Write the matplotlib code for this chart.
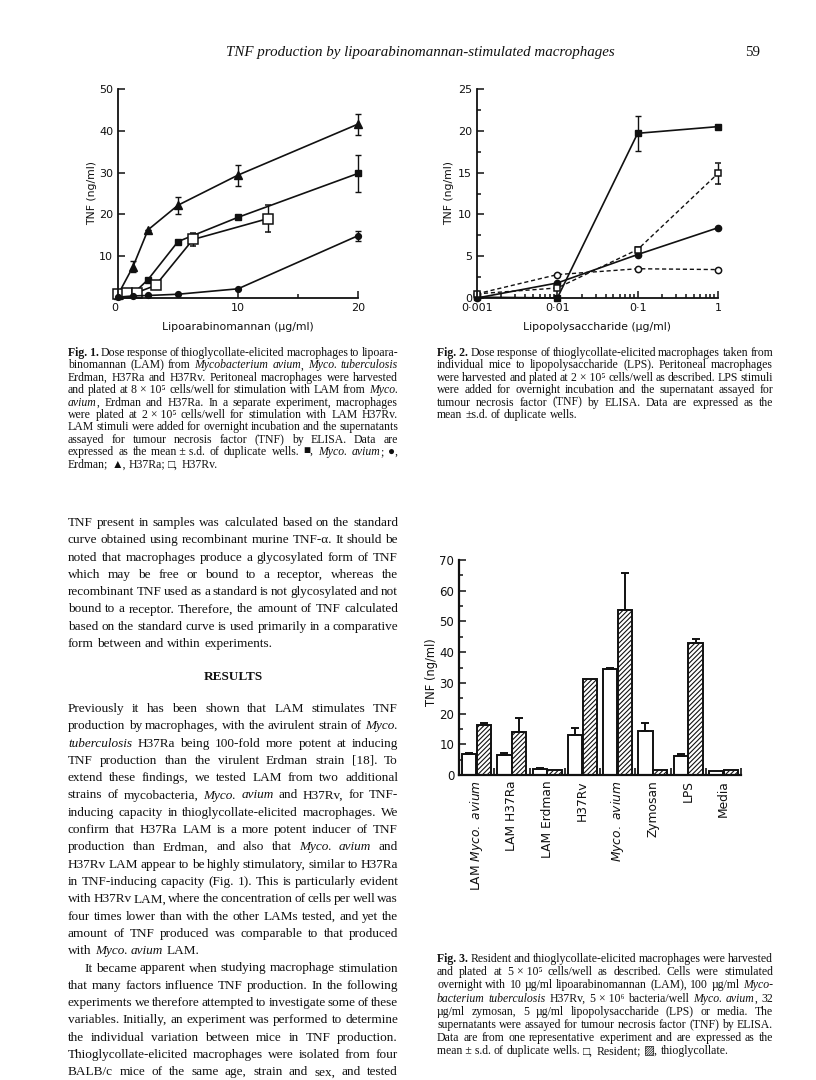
import numpy as np
import matplotlib
matplotlib.use('Agg')
import matplotlib.pyplot as plt
from matplotlib.font_manager import FontProperties
from matplotlib import transforms

W, H = 816, 1080
INK = '#111111'
SERIF = ['Liberation Serif', 'DejaVu Serif', 'DejaVu Sans']
plt.rcParams['font.family'] = ['DejaVu Sans']
plt.rcParams['hatch.linewidth'] = 0.8
plt.rcParams['mathtext.fontset'] = 'dejavusans'

# ---- Fig. 1 data: LAM dose response (ug/ml -> TNF ng/ml)
lam_dose = [0, 1.25, 2.5, 5, 10, 20]
avium = [0.6, 1.0, 4.4, 13.5, 19.3, 29.8]
avium_err = [0, 0, 0, 0, 0, 4.5]
erdman = [0.2, 0.5, 0.6, 0.9, 2.2, 14.9]
erdman_err = [0, 0, 0, 0, 0, 1.2]
h37ra = [0.8, 7.5, 16.3, 22.2, 29.4, 41.6]
h37ra_err = [0, 1.3, 0, 2.0, 2.5, 2.5]
rv_dose = [0, 0.78, 1.56, 3.125, 6.25, 12.5]
h37rv = [0.9, 1.3, 1.3, 3.0, 14.0, 19.0]
h37rv_err = [0, 0, 0, 0, 1.5, 3.3]

# ---- Fig. 2 data: LPS dose response
lps_dose = [0.001, 0.01, 0.1, 1]
mouse_a = [0.1, 0.0, 19.7, 20.5]
mouse_a_err = [0, 0, 2.1, 0]
mouse_b = [0.5, 1.2, 5.8, 14.9]
mouse_b_err = [0, 0, 0.3, 1.3]
mouse_c = [0.0, 1.8, 5.2, 8.4]
mouse_d = [0.5, 2.8, 3.5, 3.4]

# ---- Fig. 3 data: resident vs thioglycollate
stimuli = ['LAM $\\it{Myco.\\ avium}$', 'LAM H37Ra', 'LAM Erdman', 'H37Rv',
           '$\\it{Myco.\\ avium}$', 'Zymosan', 'LPS', 'Media']
resident = [6.8, 6.6, 2.1, 12.9, 34.6, 14.2, 6.3, 1.2]
resident_err = [0.4, 0.6, 0.3, 2.5, 0.3, 2.8, 0.5, 0]
thio = [16.3, 14.0, 1.5, 31.1, 53.6, 1.5, 43.1, 1.5]
thio_err = [0.5, 4.4, 0, 0, 12.3, 0, 1.1, 0]

fig = plt.figure(figsize=(W / 100, H / 100), dpi=100)
renderer = fig.canvas.get_renderer()


def box(x0, y0, x1, y1):
    return [x0 / W, 1 - y1 / H, (x1 - x0) / W, (y1 - y0) / H]


def ftext(x, y, s, **kw):
    return fig.text(x / W, 1 - y / H, s, color=INK, **kw)


def style_axes(ax):
    for s in ['top', 'right']:
        ax.spines[s].set_visible(False)
    for s in ['left', 'bottom']:
        ax.spines[s].set_linewidth(1.3)
        ax.spines[s].set_color(INK)
    ax.tick_params(which='both', direction='in', width=1.1, colors=INK, labelsize=8)
    ax.tick_params(which='major', length=5)
    ax.tick_params(which='minor', length=3)
    ax.patch.set_alpha(0)


lkw = dict(color=INK, lw=1.2, clip_on=False)

# ---------------- Fig. 1
ax1 = fig.add_axes(box(118, 89, 358, 298))
ax1.errorbar(lam_dose, h37ra, yerr=h37ra_err, marker='^', ms=5.5, mfc=INK, mec=INK,
             capsize=2.5, elinewidth=1, **lkw)
ax1.errorbar(lam_dose, avium, yerr=avium_err, marker='s', ms=4.5, mfc=INK, mec=INK,
             capsize=2.5, elinewidth=1, **lkw)
ax1.errorbar(rv_dose, h37rv, yerr=h37rv_err, marker='s', ms=6.5, mfc='white', mec=INK,
             mew=1.1, capsize=2.5, elinewidth=1, **lkw)
ax1.errorbar(lam_dose, erdman, yerr=erdman_err, marker='o', ms=4.2, mfc=INK, mec=INK,
             capsize=2.5, elinewidth=1, **lkw)
ax1.set_xlim(0, 20)
ax1.set_ylim(0, 50)
ax1.set_xticks([0, 10, 20])
ax1.set_xticks([5, 15], minor=True)
ax1.set_yticks([10, 20, 30, 40, 50])
style_axes(ax1)
ax1.get_xticklabels()[0].set_horizontalalignment('right')
ftext(92, 193, 'TNF (ng/ml)', rotation=90, ha='center', va='center', fontsize=7.8)
ftext(238, 327, 'Lipoarabinomannan (µg/ml)', ha='center', va='center', fontsize=7.8)

# ---------------- Fig. 2
ax2 = fig.add_axes(box(477, 89, 718, 298))
dkw = dict(color=INK, lw=1.0, ls=(0, (3, 2)), clip_on=False)
ax2.errorbar(lps_dose, mouse_a, yerr=mouse_a_err, marker='s', ms=5, mfc=INK, mec=INK,
             capsize=2.5, elinewidth=1, **lkw)
ax2.errorbar(lps_dose, mouse_b, yerr=mouse_b_err, marker='s', ms=5, mfc='white', mec=INK,
             mew=1.1, capsize=2.5, elinewidth=1, **dkw)
ax2.plot(lps_dose, mouse_c, marker='o', ms=4.5, mfc=INK, mec=INK, **lkw)
ax2.plot(lps_dose, mouse_d, marker='o', ms=4.5, mfc='white', mec=INK, mew=1.1, **dkw)
ax2.set_xscale('log')
ax2.set_xlim(0.001, 1)
ax2.set_ylim(0, 25)
ax2.set_xticks(lps_dose)
ax2.set_xticklabels(['0·001', '0·01', '0·1', '1'])
ax2.set_yticks([0, 5, 10, 15, 20, 25])
ax2.set_yticks(np.arange(2.5, 25, 5), minor=True)
style_axes(ax2)
ftext(449, 193, 'TNF (ng/ml)', rotation=90, ha='center', va='center', fontsize=7.8)
ftext(597, 327, 'Lipopolysaccharide (µg/ml)', ha='center', va='center', fontsize=7.8)

# ---------------- Fig. 3
ax3 = fig.add_axes(box(459, 560, 741, 775))
pos = np.arange(len(stimuli))
bw = 0.4
ax3.bar(pos - 0.21, resident, bw, color='white', edgecolor=INK, lw=1.4)
ax3.bar(pos + 0.21, thio, bw, color='white', edgecolor=INK, lw=1.4, hatch='///////')
r_err = np.array(resident_err)
t_err = np.array(thio_err)
m = r_err > 0
ax3.errorbar(pos[m] - 0.21, np.array(resident)[m], yerr=[np.zeros(m.sum()), r_err[m]],
             fmt='none', ecolor=INK, elinewidth=1.4, capsize=3, capthick=1.4)
m = t_err > 0
ax3.errorbar(pos[m] + 0.21, np.array(thio)[m], yerr=[np.zeros(m.sum()), t_err[m]],
             fmt='none', ecolor=INK, elinewidth=1.4, capsize=3, capthick=1.4)
ax3.set_xlim(-0.5, 7.5)
ax3.set_ylim(0, 70)
ax3.set_yticks(np.arange(0, 71, 10))
ax3.set_yticks(np.arange(5, 70, 10), minor=True)
ax3.set_xticks([])
ax3.set_xticks(pos + 0.5, minor=True)
style_axes(ax3)
ax3.spines['left'].set_linewidth(1.6)
ax3.spines['bottom'].set_linewidth(1.6)
ax3.tick_params(axis='y', labelsize=8.5)
ax3.tick_params(axis='x', which='minor', length=5, width=1.2)
btr = transforms.blended_transform_factory(ax3.transData, ax3.transAxes)
for p, lab in zip(pos, stimuli):
    ax3.text(p, -0.025, lab, rotation=90, ha='center', va='top', transform=btr,
             fontsize=8.8, color=INK)
ftext(431, 672, 'TNF (ng/ml)', rotation=90, ha='center', va='center', fontsize=8.3)


# ---------------- running text (justified, word by word)
def fp(size, it=False, bd=False):
    return FontProperties(family=SERIF, style='italic' if it else 'normal',
                          weight='bold' if bd else 'normal', size=size)


def tw(s, prop):
    return renderer.get_text_width_height_descent(s, prop, ismath=False)[0]


def parse(line, st):
    words = []
    for tok in line.split(' '):
        chunks, buf = [], ''
        for ch in tok:
            if ch in '_*':
                if buf:
                    chunks.append((buf, st['i'], st['b']))
                    buf = ''
                if ch == '_':
                    st['i'] = not st['i']
                else:
                    st['b'] = not st['b']
            else:
                buf += ' ' if ch == '~' else ch
        if buf:
            chunks.append((buf, st['i'], st['b']))
        words.append(chunks)
    return words


def word_w(w, size):
    return sum(tw(t, fp(size, i, b)) for t, i, b in w)


SPACE = 0.25  # em


def ratios(lines, x0, x1, last_just=False, indent=0):
    st = {'i': False, 'b': False}
    out = []
    for k, line in enumerate(lines):
        words = parse(line, st)
        if k == len(lines) - 1 and not last_just:
            continue
        avail = x1 - x0 - (indent if k == 0 else 0)
        nat = sum(word_w(w, 10) for w in words) + SPACE * 10 * 100 / 72 * (len(words) - 1)
        out.append(nat / avail)
    return out


def draw_par(lines, x0, x1, y0, lead, size, last_just=False, indent=0):
    st = {'i': False, 'b': False}
    for k, line in enumerate(lines):
        words = parse(line, st)
        xs = x0 + (indent if k == 0 else 0)
        s = size
        ws = [word_w(w, s) for w in words]
        mingap = 0.6 * SPACE * s * 100 / 72
        if sum(ws) + mingap * (len(words) - 1) > x1 - xs:
            s = size * (x1 - xs) / (sum(ws) + mingap * (len(words) - 1))
            ws = [word_w(w, s) for w in words]
        just = (k < len(lines) - 1 or last_just) and len(words) > 1
        gap = (x1 - xs - sum(ws)) / (len(words) - 1) if just else SPACE * s * 100 / 72
        x, y = xs, y0 + k * lead
        for w, wd in zip(words, ws):
            cx = x
            for t, i, b in w:
                pr = fp(s, i, b)
                ftext(cx, y, t, fontproperties=pr, ha='left', va='baseline')
                cx += tw(t, pr)
            x += wd + gap


cap1 = [
    '*Fig.~1.* Dose response of thioglycollate-elicited macrophages to lipoara-',
    'binomannan (LAM) from _Mycobacterium avium_, _Myco. tuberculosis_',
    'Erdman, H37Ra and H37Rv. Peritoneal macrophages were harvested',
    'and plated at 8~×~10⁵ cells/well for stimulation with LAM from _Myco._',
    '_avium_, Erdman and H37Ra. In a separate experiment, macrophages',
    'were plated at 2~×~10⁵ cells/well for stimulation with LAM H37Rv.',
    'LAM stimuli were added for overnight incubation and the supernatants',
    'assayed for tumour necrosis factor (TNF) by ELISA. Data are',
    'expressed as the mean~±~s.d. of duplicate wells. ■, _Myco. avium_; ●,',
    'Erdman; ▲, H37Ra; □, H37Rv.',
]
cap2 = [
    '*Fig.~2.* Dose response of thioglycollate-elicited macrophages taken from',
    'individual mice to lipopolysaccharide (LPS). Peritoneal macrophages',
    'were harvested and plated at 2~×~10⁵ cells/well as described. LPS stimuli',
    'were added for overnight incubation and the supernatant assayed for',
    'tumour necrosis factor (TNF) by ELISA. Data are expressed as the',
    'mean ±s.d. of duplicate wells.',
]
cap3 = [
    '*Fig.~3.* Resident and thioglycollate-elicited macrophages were harvested',
    'and plated at 5~×~10⁵ cells/well as described. Cells were stimulated',
    'overnight with 10 µg/ml lipoarabinomannan (LAM), 100 µg/ml _Myco-_',
    '_bacterium tuberculosis_ H37Rv, 5~×~10⁶ bacteria/well _Myco. avium_, 32',
    'µg/ml zymosan, 5 µg/ml lipopolysaccharide (LPS) or media. The',
    'supernatants were assayed for tumour necrosis factor (TNF) by ELISA.',
    'Data are from one representative experiment and are expressed as the',
    'mean~±~s.d. of duplicate wells. □, Resident; ▨, thioglycollate.',
]
body1 = [
    'TNF present in samples was calculated based on the standard',
    'curve obtained using recombinant murine TNF-α. It should be',
    'noted that macrophages produce a glycosylated form of TNF',
    'which may be free or bound to a receptor, whereas the',
    'recombinant TNF used as a standard is not glycosylated and not',
    'bound to a receptor. Therefore, the amount of TNF calculated',
    'based on the standard curve is used primarily in a comparative',
    'form between and within experiments.',
]
body2 = [
    'Previously it has been shown that LAM stimulates TNF',
    'production by macrophages, with the avirulent strain of _Myco._',
    '_tuberculosis_ H37Ra being 100-fold more potent at inducing',
    'TNF production than the virulent Erdman strain [18]. To',
    'extend these findings, we tested LAM from two additional',
    'strains of mycobacteria, _Myco. avium_ and H37Rv, for TNF-',
    'inducing capacity in thioglycollate-elicited macrophages. We',
    'confirm that H37Ra LAM is a more potent inducer of TNF',
    'production than Erdman, and also that _Myco. avium_ and',
    'H37Rv LAM appear to be highly stimulatory, similar to H37Ra',
    'in TNF-inducing capacity (Fig. 1). This is particularly evident',
    'with H37Rv LAM, where the concentration of cells per well was',
    'four times lower than with the other LAMs tested, and yet the',
    'amount of TNF produced was comparable to that produced',
    'with _Myco. avium_ LAM.',
]
body3 = [
    'It became apparent when studying macrophage stimulation',
    'that many factors influence TNF production. In the following',
    'experiments we therefore attempted to investigate some of these',
    'variables. Initially, an experiment was performed to determine',
    'the individual variation between mice in TNF production.',
    'Thioglycollate-elicited macrophages were isolated from four',
    'BALB/c mice of the same age, strain and sex, and tested',
]

LX0, LX1 = 68, 398
RX0, RX1 = 437, 773

rc = ratios(cap1, LX0, LX1) + ratios(cap2, RX0, RX1) + ratios(cap3, RX0, RX1)
cap_size = 10 / np.percentile(rc, 70)
rb = ratios(body1, LX0, LX1) + ratios(body2, LX0, LX1) + \
    ratios(body3, LX0, LX1, last_just=True, indent=16)
body_size = 10 / np.percentile(rb, 70)

draw_par(cap1, LX0, LX1, 356, 12.4, cap_size)
draw_par(cap2, RX0, RX1, 356, 12.4, cap_size)
draw_par(cap3, RX0, RX1, 962, 13.2, cap_size)
draw_par(body1, LX0, LX1, 526, 17.3, body_size)
draw_par(body2, LX0, LX1, 712, 17.3, body_size)
draw_par(body3, LX0, LX1, 712 + 15 * 17.3, 17.3, body_size, last_just=True, indent=16)

ftext(233, 680, 'RESULTS', fontproperties=fp(body_size, bd=True), ha='center', va='baseline')

head = 'TNF production by lipoarabinomannan-stimulated macrophages'
hs = 10 * 390 / tw(head, fp(10, it=True))
ftext(420, 56, head, fontproperties=fp(hs, it=True), ha='center', va='baseline')
ftext(760, 56, '59', fontproperties=fp(hs), ha='right', va='baseline')

fig.savefig('out.png', dpi=100, facecolor='white')
